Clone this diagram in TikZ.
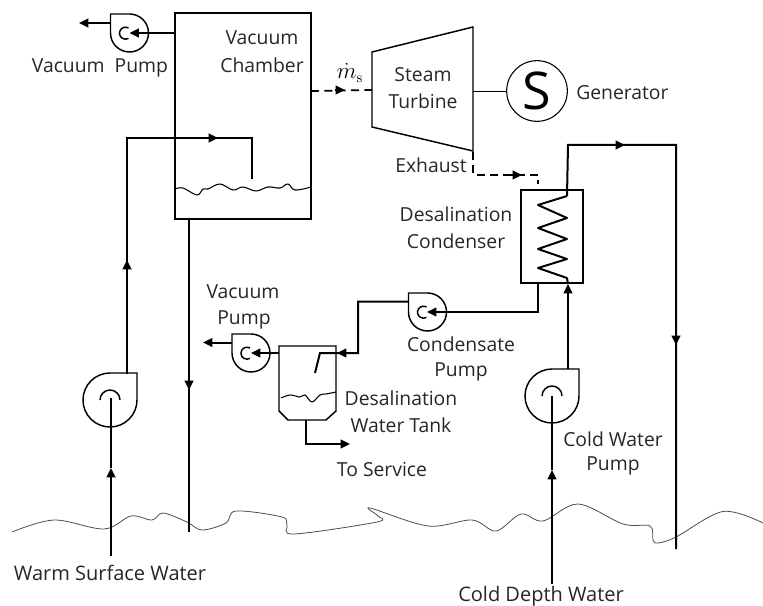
\documentclass[tikz,border=0pt]{standalone}
\usepackage[no-math]{fontspec}
\setmainfont{Open Sans}
\usetikzlibrary{arrows.meta}
\tikzset{
  pipe/.style={line width=1.5pt,draw=black,line join=miter},
  wave/.style={line width=0.6pt,draw=black!70},
  shape1/.style={line width=1.1pt,draw=black},
  tipped/.style={-{Triangle[length=7pt,width=6.5pt]}},
  dashpipe/.style={line width=1.3pt,draw=black,dash pattern=on 6pt off 4pt},
  lab/.style={inner sep=0pt,font=\fontsize{14.5pt}{16pt}\selectfont,text=black!85},
  labw/.style={inner sep=0pt,font=\fontsize{15pt}{16pt}\selectfont,text=black!85}
}
\newcommand{\pumpL}[2]{%
  \draw[shape1] (#1-19,#2-19) -- (#1,#2-19) arc (90:-180:14.25pt) -- cycle;
  \draw[shape1] (#1-1,#2-5) arc (60:300:4.5pt);
}
\newcommand{\pumpB}[2]{%
  \draw[shape1] (#1+27,#2-27) -- (#1,#2-27) arc (90:360:20.25pt) -- cycle;
  \draw[shape1] (#1-10,#2) arc (180:0:7.5pt);
}
\begin{document}
\begin{tikzpicture}[x=0.75pt,y=-0.75pt]
\useasboundingbox (0,0) rectangle (763,606);
% named points
\coordinate (pumpA) at (129.5,33);
\coordinate (pumpAout) at (111,23);
\coordinate (ventA) at (79,23);
\coordinate (chamberA) at (175,33);
\coordinate (warmIn) at (111,556);
\coordinate (warmMid) at (111,468);
\coordinate (warmEye) at (111,398);
\coordinate (warmOut) at (127,374);
\coordinate (warmUp) at (127,260);
\coordinate (warmCorner) at (127,138);
\coordinate (warmTop) at (218,138);
\coordinate (sprayCorner) at (252,138);
\coordinate (sprayEnd) at (252,179);
\coordinate (brineTop) at (189,219);
\coordinate (brineMid) at (189,390);
\coordinate (brineEnd) at (189,532);
\coordinate (steamA) at (311,91);
\coordinate (steamMid) at (345,90);
\coordinate (steamB) at (372,90);
\coordinate (shaftA) at (473,91);
\coordinate (exA) at (473,152);
\coordinate (exB) at (473,175);
\coordinate (exMid) at (522,175);
\coordinate (exC) at (538,175);
\coordinate (exD) at (538,184);
\coordinate (coilTop) at (567,196);
\coordinate (coilBot) at (567,278);
\coordinate (coolA) at (568,145);
\coordinate (coolMid) at (625,145);
\coordinate (coolB) at (676,145);
\coordinate (coolDown) at (676,345);
\coordinate (coolEnd) at (676,549);
\coordinate (condOut) at (538,284);
\coordinate (condCorner) at (538,312);
\coordinate (pumpC) at (427,312);
\coordinate (pumpCout) at (409,301.5);
\coordinate (cA) at (358,301.5);
\coordinate (cB) at (358,353);
\coordinate (cMid) at (337,353);
\coordinate (cC) at (320,353);
\coordinate (cD) at (315,373);
\coordinate (tankL) at (279,353);
\coordinate (pumpD) at (251,353);
\coordinate (pumpDout) at (232,342.5);
\coordinate (ventD) at (203,342.5);
\coordinate (tankOut) at (306,420);
\coordinate (tankCorner) at (306,444);
\coordinate (service) at (350,444);
\coordinate (coldIn) at (552,584);
\coordinate (coldMid) at (552,470);
\coordinate (coldEye) at (552,396);
\coordinate (coldOut) at (568,369);
\coordinate (coldTip) at (568,284);

% sea surface
\draw[wave] plot[smooth,tension=0.55] coordinates {(12,532)(54,520)(104,529)(131,516)(152,520)(163,513)(187,522)(202,530)(226,523)(236,511)(282,517)(287,525)(294,534)(377,522)(378,516)(370,508)(428,526)(472,520)(496,531)(521,514)(543,521)(578,504)(623,524)(650,526)(653,540)(658,543)(676,537)(723,511.5)(763,523)};

% vacuum chamber
\node[draw=black,line width=1.1pt,minimum width=102pt,minimum height=154.5pt,inner sep=0pt] (chamber) at (243,116) {};
\draw[line width=0.8pt,draw=black] plot[smooth,tension=0.6] coordinates {(175,189)(183,188)(197,195)(203,189)(208,189)(220,184)(233,190)(243,187)(256,191)(268,187)(280,188)(288,184)(295,190)(311,187)};

% pumps
\pumpL{129.5}{33}
\pumpL{427.5}{312}
\pumpL{251}{353}
\pumpB{110}{400}
\pumpB{552}{396}

% turbine and generator
\draw[shape1] (372,52) -- (473,27) -- (473,151) -- (372,127) -- cycle;
\node[draw=black,circle,line width=0.8pt,minimum size=45.5pt,inner sep=0pt,font=\fontsize{39pt}{39pt}\selectfont] (gen) at (537,91) {S};
\draw[line width=0.7pt] (shaftA) -- (gen);

% tank
\draw[shape1] (279,346) -- (336,346) -- (336,411) -- (326,420) -- (288,420) -- (279,411) -- cycle;
\draw[line width=0.8pt,draw=black] plot[smooth,tension=0.6] coordinates {(281,398)(290,395)(300,397)(305,395)(312,402)(320,395)(326,394)(336,392)};

% condenser
\node[draw=black,line width=1.5pt,minimum width=47pt,minimum height=70pt,inner sep=0pt] (cond) at (552,236.5) {};
\draw[pipe,line join=round] (coilTop) -- (538,205) -- (567,218) -- (538,228) -- (567,239) -- (538,249) -- (567,259) -- (538,268) -- (coilBot) -- (568,284);
\draw[pipe] (coilTop) -- (coolA) -- (coolB) -- (coolEnd);
\draw[pipe,tipped] (coolA) -- (coolMid);
\draw[pipe,tipped] (coolB) -- (coolDown);

% pipes
\draw[pipe,tipped] (chamberA) -- (pumpA);
\draw[pipe,tipped] (pumpAout) -- (ventA);
\draw[pipe,tipped] (warmIn) -- (warmMid);
\draw[pipe] (warmMid) -- (warmEye);
\draw[pipe] (warmOut) -- (warmCorner) -- (sprayCorner) -- (sprayEnd);
\draw[pipe,tipped] (warmOut) -- (warmUp);
\draw[pipe,tipped] (warmCorner) -- (warmTop);
\draw[pipe] (brineTop) -- (brineEnd);
\draw[pipe,tipped] (brineTop) -- (brineMid);
\draw[dashpipe] (steamA) -- (steamB);
\draw[line width=1.3pt,tipped] (335,90) -- (steamMid);
\draw[dashpipe] (exA) -- (exB) -- (exC) -- (exD);
\draw[line width=1.3pt,tipped] (510,175) -- (exMid);
\draw[pipe,tipped] (condOut) -- (condCorner) -- (pumpC);
\draw[pipe] (pumpCout) -- (cA) -- (cB) -- (cC) -- (cD);
\draw[pipe,tipped] (cB) -- (cMid);
\draw[pipe,tipped] (tankL) -- (pumpD);
\draw[pipe,tipped] (pumpDout) -- (ventD);
\draw[pipe,tipped] (tankOut) -- (tankCorner) -- (service);
\draw[pipe,tipped] (coldIn) -- (coldMid);
\draw[pipe] (coldMid) -- (coldEye);
\draw[pipe,tipped] (coldOut) -- (coldTip);

% labels
\node[lab] (l1) at (100,68) {Vacuum\ \ Pump};
\node[lab] (l2) at (262,38) {Vacuum};
\node[lab] (l3) at (262,65) {Chamber};
\node[inner sep=0pt,font=\fontsize{16pt}{16pt}\selectfont] (l4) at (350,73) {$\dot m_{\mathrm{s}}$};
\node[lab] (l5) at (423,75) {Steam};
\node[lab] (l6) at (423,101) {Turbine};
\node[lab,anchor=west] (l7) at (576,93) {Generator};
\node[lab] (l8) at (431,165) {Exhaust};
\node[lab] (l9) at (456,214) {Desalination};
\node[lab] (l10) at (456,241) {Condenser};
\node[lab] (l11) at (243,292) {Vacuum};
\node[lab] (l12) at (244,320) {Pump};
\node[lab] (l13) at (461,344) {Condensate};
\node[lab] (l14) at (461,372) {Pump};
\node[lab] (l15) at (401,398) {Desalination};
\node[lab] (l16) at (401,425) {Water Tank};
\node[lab] (l17) at (382,469) {To Service};
\node[lab] (l18) at (613,439) {Cold Water};
\node[lab] (l19) at (613,466) {Pump};
\node[labw] (l20) at (110,573) {Warm Surface Water};
\node[labw] (l21) at (541,596) {Cold Depth Water};
\end{tikzpicture}
\end{document}
